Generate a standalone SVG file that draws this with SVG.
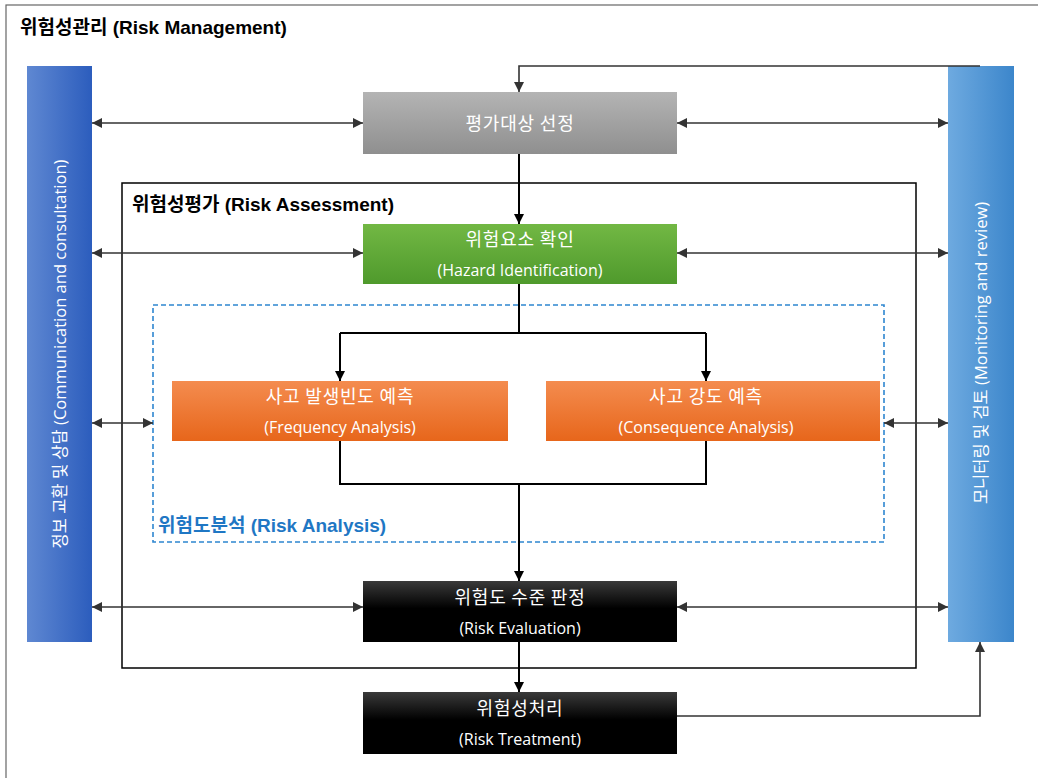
<svg xmlns="http://www.w3.org/2000/svg" width="1038" height="778" viewBox="0 0 1038 778">
<defs>
<linearGradient id="gGray" x1="0" y1="0" x2="0" y2="1"><stop offset="0" stop-color="#b4b4b4"/><stop offset="1" stop-color="#8f8f8f"/></linearGradient>
<linearGradient id="gGreen" x1="0" y1="0" x2="0" y2="1"><stop offset="0" stop-color="#72b844"/><stop offset="1" stop-color="#4f9a2c"/></linearGradient>
<linearGradient id="gOrange" x1="0" y1="0" x2="0" y2="1"><stop offset="0" stop-color="#f48c4f"/><stop offset="1" stop-color="#e7661b"/></linearGradient>
<linearGradient id="gBlack" x1="0" y1="0" x2="0" y2="1"><stop offset="0" stop-color="#3a3a3a"/><stop offset="0.45" stop-color="#000"/><stop offset="1" stop-color="#000"/></linearGradient>
<linearGradient id="gLeft" x1="0" y1="0" x2="1" y2="0"><stop offset="0" stop-color="#5f88d2"/><stop offset="1" stop-color="#2c5dbd"/></linearGradient>
<linearGradient id="gRight" x1="0" y1="0" x2="1" y2="0"><stop offset="0" stop-color="#6eaae0"/><stop offset="1" stop-color="#3c86cb"/></linearGradient>
<marker id="ah" viewBox="0 0 10 10" refX="10" refY="5" markerWidth="10" markerHeight="10" markerUnits="userSpaceOnUse" orient="auto-start-reverse"><path d="M0,0 L10,5 L0,10 z" fill="#000"/></marker>
<marker id="ahg" viewBox="0 0 10 10" refX="10" refY="5" markerWidth="10" markerHeight="10" markerUnits="userSpaceOnUse" orient="auto-start-reverse"><path d="M0,0 L10,5 L0,10 z" fill="#333"/></marker>
</defs>
<style>
.ttl{font-family:"Liberation Sans","Noto Sans CJK KR",sans-serif;font-weight:bold;font-size:19px;fill:#000}
.ko{font-family:"Noto Sans CJK KR",sans-serif;font-size:18px;letter-spacing:0.8px;fill:#fff;text-anchor:middle}
.en{font-family:"Open Sans","Noto Sans CJK KR",sans-serif;font-size:16px;fill:#fff;text-anchor:middle}
.bar{font-family:"Open Sans","Noto Sans CJK KR",sans-serif;font-size:16.5px;fill:#fff;text-anchor:middle}
.flow{fill:none;stroke:#000;stroke-width:2}
.bi{fill:none;stroke:#333;stroke-width:1.6}
</style>
<rect x="0" y="0" width="1038" height="778" fill="#fff"/>
<rect x="6" y="5" width="1040" height="780" fill="none" stroke="#666" stroke-width="1.2"/>
<text class="ttl" x="20" y="34">위험성관리 (Risk Management)</text>

<g id="assessment-frame">
<rect x="122" y="183" width="794" height="485" fill="none" stroke="#000" stroke-width="1.5"/>
<text class="ttl" x="132" y="211">위험성평가 (Risk Assessment)</text>
</g>
<g id="analysis-frame">
<rect x="153" y="305" width="731" height="237" fill="none" stroke="#2e86d0" stroke-width="1.6" stroke-dasharray="5,3"/>
<text class="ttl" x="158" y="532" style="fill:#1f77c4">위험도분석 (Risk Analysis)</text>
</g>

<g id="left-bar">
<rect x="27" y="66" width="65" height="576" fill="url(#gLeft)"/>
<text class="bar" transform="translate(66,354) rotate(-90)">정보 교환 및 상담 (Communication and consultation)</text>
</g>
<g id="right-bar">
<rect x="948" y="66" width="66" height="576" fill="url(#gRight)"/>
<text class="bar" transform="translate(987,353) rotate(-90)">모니터링 및 검토 (Monitoring and review)</text>
</g>

<g id="connectors">
<path class="bi" d="M980,66 L519,66 L519,92" marker-end="url(#ahg)"/>
<path class="flow" d="M519,154 L519,224" marker-end="url(#ah)"/>
<path class="flow" d="M519,284 L519,333"/>
<path class="flow" d="M340,333 L706,333"/>
<path class="flow" d="M340,333 L340,381" marker-end="url(#ah)"/>
<path class="flow" d="M706,333 L706,381" marker-end="url(#ah)"/>
<path class="flow" d="M340,441 L340,484 L706,484 L706,441"/>
<path class="flow" d="M519,484 L519,581" marker-end="url(#ah)"/>
<path class="flow" d="M519,642 L519,692" marker-end="url(#ah)"/>
<path class="bi" d="M677,716 L980,716 L980,642" marker-end="url(#ahg)"/>
<path class="bi" d="M92,123 L363,123" marker-start="url(#ahg)" marker-end="url(#ahg)"/>
<path class="bi" d="M92,253 L363,253" marker-start="url(#ahg)" marker-end="url(#ahg)"/>
<path class="bi" d="M92,423 L153,423" marker-start="url(#ahg)" marker-end="url(#ahg)"/>
<path class="bi" d="M92,607 L363,607" marker-start="url(#ahg)" marker-end="url(#ahg)"/>
<path class="bi" d="M677,123 L948,123" marker-start="url(#ahg)" marker-end="url(#ahg)"/>
<path class="bi" d="M677,253 L948,253" marker-start="url(#ahg)" marker-end="url(#ahg)"/>
<path class="bi" d="M884,423 L948,423" marker-start="url(#ahg)" marker-end="url(#ahg)"/>
<path class="bi" d="M677,607 L948,607" marker-start="url(#ahg)" marker-end="url(#ahg)"/>
</g>

<g id="target-selection">
<rect x="363" y="92" width="314" height="62" fill="url(#gGray)"/>
<text class="ko" x="520" y="130">평가대상 선정</text>
</g>
<g id="hazard-identification">
<rect x="363" y="224" width="314" height="60" fill="url(#gGreen)"/>
<text class="ko" x="520" y="246">위험요소 확인</text>
<text class="en" x="520" y="276">(Hazard Identification)</text>
</g>
<g id="frequency-analysis">
<rect x="172" y="381" width="336" height="60" fill="url(#gOrange)"/>
<text class="ko" x="340" y="403">사고 발생빈도 예측</text>
<text class="en" x="340" y="433">(Frequency Analysis)</text>
</g>
<g id="consequence-analysis">
<rect x="546" y="381" width="334" height="60" fill="url(#gOrange)"/>
<text class="ko" x="706" y="403">사고 강도 예측</text>
<text class="en" x="706" y="433">(Consequence Analysis)</text>
</g>
<g id="risk-evaluation">
<rect x="363" y="581" width="314" height="61" fill="url(#gBlack)"/>
<text class="ko" x="520" y="604">위험도 수준 판정</text>
<text class="en" x="520" y="634">(Risk Evaluation)</text>
</g>
<g id="risk-treatment">
<rect x="363" y="692" width="314" height="62" fill="url(#gBlack)"/>
<text class="ko" x="520" y="715">위험성처리</text>
<text class="en" x="520" y="745">(Risk Treatment)</text>
</g>
</svg>
